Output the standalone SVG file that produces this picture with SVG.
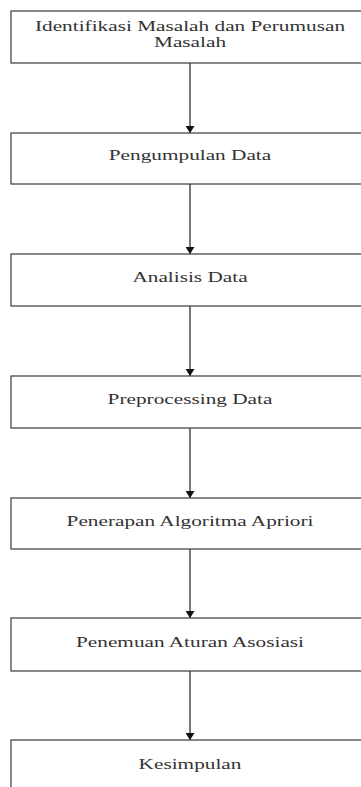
<svg xmlns="http://www.w3.org/2000/svg" width="361" height="787" viewBox="0 0 361 787">
<defs>
<style>
.box{fill:#fff;stroke:#3a3a3a;stroke-width:1.2}
.lbl{font-family:"Liberation Serif","Times New Roman",serif;font-size:14px;fill:#333;text-anchor:middle}
.con{stroke:#2e2e2e;stroke-width:1.3;fill:none;marker-end:url(#ah)}
</style>
<marker id="ah" viewBox="0 0 7 9" refX="7" refY="4.5" markerWidth="7" markerHeight="9" markerUnits="userSpaceOnUse" orient="auto">
<path d="M0,0 L7,4.5 L0,9 z" fill="#111"/>
</marker>
</defs>
<rect width="361" height="787" fill="#fff"/>
<g id="connectors">
<line class="con" x1="190" y1="63" x2="190" y2="133"/>
<line class="con" x1="190" y1="184" x2="190" y2="254"/>
<line class="con" x1="190" y1="306" x2="190" y2="376"/>
<line class="con" x1="190" y1="428" x2="190" y2="498"/>
<line class="con" x1="190" y1="549" x2="190" y2="618"/>
<line class="con" x1="190" y1="671" x2="190" y2="740"/>
</g>
<g id="n1"><rect class="box" x="11" y="11" width="358" height="52"/>
<text class="lbl" transform="translate(190,30.7) scale(1.52,1)">Identifikasi Masalah dan Perumusan</text>
<text class="lbl" transform="translate(190,47) scale(1.52,1)">Masalah</text></g>
<g id="n2"><rect class="box" x="11" y="133" width="358" height="51"/>
<text class="lbl" transform="translate(190,160) scale(1.52,1)">Pengumpulan Data</text></g>
<g id="n3"><rect class="box" x="11" y="254" width="358" height="52"/>
<text class="lbl" transform="translate(190,282) scale(1.52,1)">Analisis Data</text></g>
<g id="n4"><rect class="box" x="11" y="376" width="358" height="52"/>
<text class="lbl" transform="translate(190,404) scale(1.52,1)">Preprocessing Data</text></g>
<g id="n5"><rect class="box" x="11" y="498" width="358" height="51"/>
<text class="lbl" transform="translate(190,525.5) scale(1.52,1)">Penerapan Algoritma Apriori</text></g>
<g id="n6"><rect class="box" x="11" y="618" width="358" height="53"/>
<text class="lbl" transform="translate(190,647) scale(1.52,1)">Penemuan Aturan Asosiasi</text></g>
<g id="n7"><rect class="box" x="11" y="740" width="358" height="52"/>
<text class="lbl" transform="translate(190,769) scale(1.52,1)">Kesimpulan</text></g>
</svg>
